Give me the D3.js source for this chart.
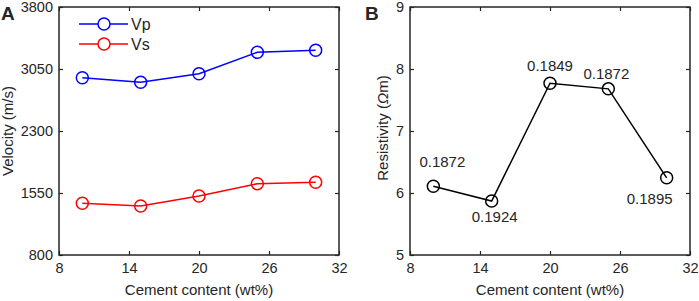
<!DOCTYPE html>
<html>
<head>
<meta charset="utf-8">
<script src="https://cdn.jsdelivr.net/npm/d3@7"></script>
<style>
  body { margin: 0; background: #fff; }
  svg text { font-family: "Liberation Sans", Arial, sans-serif; fill: #262626; }
</style>
</head>
<body>
<div id="chart"></div>
<script>
// data
var cement = [10, 15, 20, 25, 30];
var vp = [2945, 2889, 2993, 3252, 3276];
var vs = [1425, 1393, 1514, 1663, 1679];
var resistivity = [6.11, 5.87, 7.77, 7.68, 6.245];
var porosityLabels = ["0.1872", "0.1924", "0.1849", "0.1872", "0.1895"];
var xTicks = [8, 14, 20, 26, 32];
var velTicks = [800, 1550, 2300, 3050, 3800];
var resTicks = [5, 6, 7, 8, 9];

var W = 699, H = 301;
var svg = d3.select("#chart").append("svg")
    .attr("width", W).attr("height", H);

var axisColor = "#262626";

function panel(left, right, top, bottom, yDomain, yTicks) {
  var g = svg.append("g");
  var x = d3.scaleLinear().domain([8, 32]).range([left, right]);
  var y = d3.scaleLinear().domain(yDomain).range([bottom, top]);

  // ticks pointing inward on all four sides (box style)
  var tl = 4;
  g.append("g").attr("transform", "translate(0," + bottom + ")")
    .call(d3.axisBottom(x).tickValues(xTicks).tickSize(-tl).tickPadding(8).tickFormat(d3.format("d")))
  g.append("g").attr("transform", "translate(0," + top + ")")
    .call(d3.axisTop(x).tickValues(xTicks).tickSize(-tl).tickFormat(""))
  g.append("g").attr("transform", "translate(" + left + ",0)")
    .call(d3.axisLeft(y).tickValues(yTicks).tickSize(-tl).tickPadding(6).tickFormat(d3.format("d")))
  g.append("g").attr("transform", "translate(" + right + ",0)")
    .call(d3.axisRight(y).tickValues(yTicks).tickSize(-tl).tickFormat(""))

  g.selectAll(".domain").remove();
  g.selectAll(".tick line").attr("stroke", axisColor).attr("stroke-width", 1.2);
  g.selectAll(".tick text").style("font-size", "14.5px").attr("fill", axisColor);

  g.append("rect")
    .attr("x", left).attr("y", top)
    .attr("width", right - left).attr("height", bottom - top)
    .attr("fill", "none").attr("stroke", axisColor).attr("stroke-width", 1.5);

  g.append("text")
    .attr("x", (left + right) / 2).attr("y", bottom + 40)
    .attr("text-anchor", "middle").style("font-size", "15px")
    .text("Cement content (wt%)");
  return {g: g, x: x, y: y};
}

function series(p, values, color, r) {
  var line = d3.line()
    .x(function(d, i) { return p.x(cement[i]); })
    .y(function(d) { return p.y(d); });
  p.g.append("path").datum(values)
    .attr("d", line).attr("fill", "none")
    .attr("stroke", color).attr("stroke-width", 1.5);
  p.g.selectAll(null).data(values).enter().append("circle")
    .attr("cx", function(d, i) { return p.x(cement[i]); })
    .attr("cy", function(d) { return p.y(d); })
    .attr("r", r)
    .attr("fill", "none").attr("stroke", color).attr("stroke-width", 1.5);
}

// Panel A
var pA = panel(59, 339, 7, 255, [800, 3800], velTicks);
series(pA, vp, "#0000ff", 6);
series(pA, vs, "#ff0000", 6);

pA.g.append("text")
  .attr("transform", "translate(13,131) rotate(-90)")
  .attr("text-anchor", "middle").style("font-size", "15px")
  .text("Velocity (m/s)");

var legend = [{name: "Vp", color: "#0000ff"}, {name: "Vs", color: "#ff0000"}];
legend.forEach(function(l, i) {
  var ly = 24 + i * 20;
  pA.g.append("line").attr("x1", 79).attr("x2", 128)
    .attr("y1", ly).attr("y2", ly)
    .attr("stroke", l.color).attr("stroke-width", 1.5);
  pA.g.append("circle").attr("cx", 104).attr("cy", ly).attr("r", 6)
    .attr("fill", "#fff").attr("stroke", l.color).attr("stroke-width", 1.5);
  pA.g.append("text").attr("x", 131).attr("y", ly + 6)
    .style("font-size", "16px").text(l.name);
});

svg.append("text").attr("x", 1).attr("y", 20)
  .style("font-size", "19px").style("font-weight", "bold").text("A");

// Panel B
var pB = panel(410, 690, 7, 255, [5, 9], resTicks);
series(pB, resistivity, "#000000", 6);

var resLabel = pB.g.append("text")
  .attr("transform", "translate(388,128) rotate(-90)")
  .attr("text-anchor", "middle").style("font-size", "15px");
resLabel.append("tspan").text("Resistivity (");
resLabel.append("tspan").style("font-style", "italic").text("\u03A9");
resLabel.append("tspan").text("m)");

// label offsets (dx, dy) relative to each marker
var labelOffsets = [[9, -19], [3, 21], [0, -12], [-2, -10], [-17, 26]];
pB.g.selectAll(null).data(resistivity).enter().append("text")
  .attr("x", function(d, i) { return pB.x(cement[i]) + labelOffsets[i][0]; })
  .attr("y", function(d, i) { return pB.y(d) + labelOffsets[i][1]; })
  .attr("text-anchor", "middle").style("font-size", "15px")
  .text(function(d, i) { return porosityLabels[i]; });

svg.append("text").attr("x", 365).attr("y", 20)
  .style("font-size", "19px").style("font-weight", "bold").text("B");
</script>
</body>
</html>
